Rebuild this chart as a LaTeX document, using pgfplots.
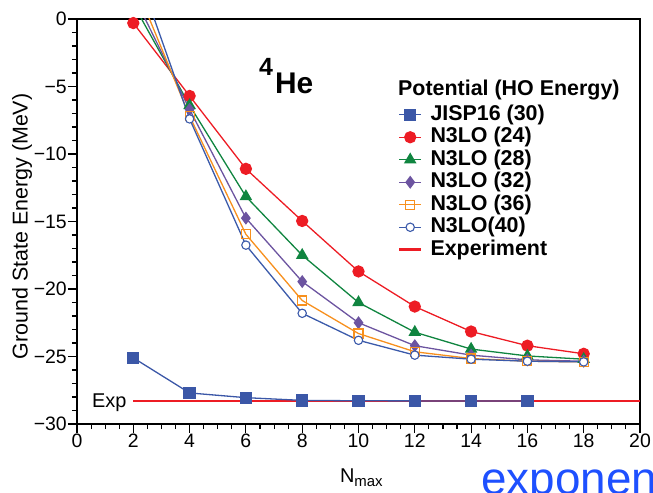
\documentclass[border=0pt]{standalone}
\usepackage{pgfplots}
\pgfplotsset{compat=1.18}
\usepackage{fontspec}
\setmainfont{Liberation Sans}
\definecolor{jblue}{RGB}{59,87,167}
\definecolor{nred}{RGB}{237,28,36}
\definecolor{ngreen}{RGB}{16,133,64}
\definecolor{npurple}{RGB}{108,84,160}
\definecolor{norange}{RGB}{247,144,30}
\definecolor{nblue}{RGB}{59,90,170}
\definecolor{expblue}{RGB}{30,80,255}
\begin{document}
\begin{tikzpicture}
\begin{axis}[
  width=563bp, height=405bp, scale only axis,
  xmin=0, xmax=20, ymin=-30, ymax=0,
  xtick={0,2,...,20}, minor x tick num=3,
  ytick={-30,-25,-20,-15,-10,-5,0},
  yticklabels={−30,−25,−20,−15,−10,−5,0},
  minor y tick num=4,
  tick align=outside, xtick pos=left, ytick pos=left,
  major tick length=9bp, minor tick length=5bp,
  tick style={line width=1.1bp, black},
  axis line style={line width=1.6bp},
  /pgf/number format/assume math mode=true,
  ticklabel style={font=\fontsize{19.5}{19.5}\selectfont, inner sep=1bp},
  xlabel={N\raisebox{-4bp}{\fontsize{15}{15}\selectfont max}},
  xlabel style={at={(axis description cs:0.505,0)}, anchor=north, yshift=-45bp, inner sep=0pt, font=\fontsize{20}{20}\selectfont},
  ylabel={Ground State Energy (MeV)},
  ylabel style={at={(axis description cs:-0.1155,0.488)}, anchor=north, inner sep=0pt, font=\fontsize{21.5}{21.5}\selectfont},
  legend cell align=left,
  legend image code/.code={\draw[mark repeat=2, mark phase=2] plot coordinates {(0bp,0bp) (11bp,0bp) (22bp,0bp)};},
  legend style={draw=none, fill=none, at={(axis description cs:0.570,0.787)}, anchor=north west,
    inner sep=0pt, outer sep=0pt, row sep=3.5bp, column sep=8bp,
    nodes={inner sep=0pt, text height=15bp, text depth=4bp},
    font=\bfseries\fontsize{21.5}{21.5}\selectfont},
  every axis plot/.append style={line width=1.3bp},
]
\addplot[nred, line width=2.6bp, forget plot] coordinates {(2,-28.3) (20,-28.3)};
\addplot[jblue, mark=square*, mark size=5.5bp, mark options={fill=jblue}] coordinates {
(2,-25.1) (4,-27.7) (6,-28.05) (8,-28.25) (10,-28.28) (12,-28.29) (14,-28.29) (16,-28.29)};
\addlegendentry{JISP16 (30)}
\addplot[nred, mark=*, mark size=5.5bp, mark options={fill=nred}] coordinates {
(2,-0.3) (4,-5.7) (6,-11.1) (8,-14.96) (10,-18.7) (12,-21.3) (14,-23.15) (16,-24.2) (18,-24.8)};
\addlegendentry{N3LO (24)}
\addplot[ngreen, mark=triangle*, mark size=6bp, mark options={fill=ngreen}] coordinates {
(2,1.1) (4,-6.4) (6,-13.15) (8,-17.5) (10,-21.0) (12,-23.2) (14,-24.45) (16,-24.96) (18,-25.2)};
\addlegendentry{N3LO (28)}
\addplot[npurple, mark=diamond*, mark size=5.5bp, mark options={fill=npurple}] coordinates {
(2,1.8) (4,-6.7) (6,-14.75) (8,-19.45) (10,-22.5) (12,-24.2) (14,-24.9) (16,-25.25) (18,-25.35)};
\addlegendentry{N3LO (32)}
\addplot[norange, mark=square, mark size=4.5bp, mark options={fill=white, line width=1.1bp}] coordinates {
(2,2.9) (4,-7.2) (6,-15.95) (8,-20.85) (10,-23.3) (12,-24.65) (14,-25.15) (16,-25.35) (18,-25.4)};
\addlegendentry{N3LO (36)}
\addplot[nblue, mark=*, mark size=4.2bp, mark options={fill=white, line width=1.1bp}] coordinates {
(2,4.4) (4,-7.4) (6,-16.75) (8,-21.8) (10,-23.8) (12,-24.9) (14,-25.2) (16,-25.35) (18,-25.4)};
\addlegendentry{N3LO(40)}
\addlegendimage{nred, line width=2.6bp}
\addlegendentry{Experiment}
\end{axis}
\node[anchor=base west, inner sep=0pt, font=\bfseries\fontsize{21.5}{21.5}\selectfont] at (321bp,328.3bp) {Potential (HO Energy)};
\node[anchor=base west, inner sep=0pt, font=\bfseries] at (182bp,330.7bp) {\raisebox{18bp}{\fontsize{25}{25}\selectfont 4}\kern2bp{\fontsize{30}{30}\selectfont He}};
\node[anchor=base west, inner sep=0pt, font=\fontsize{20}{20}\selectfont] at (15bp,16.7bp) {Exp};
\node[overlay, anchor=base west, inner sep=0pt, text=expblue, font=\fontsize{46}{46}\selectfont] at (404bp,-70bp) {exponent};
\pgfresetboundingbox
\useasboundingbox (-77bp,-69bp) rectangle (576bp,424bp);
\end{tikzpicture}
\end{document}
